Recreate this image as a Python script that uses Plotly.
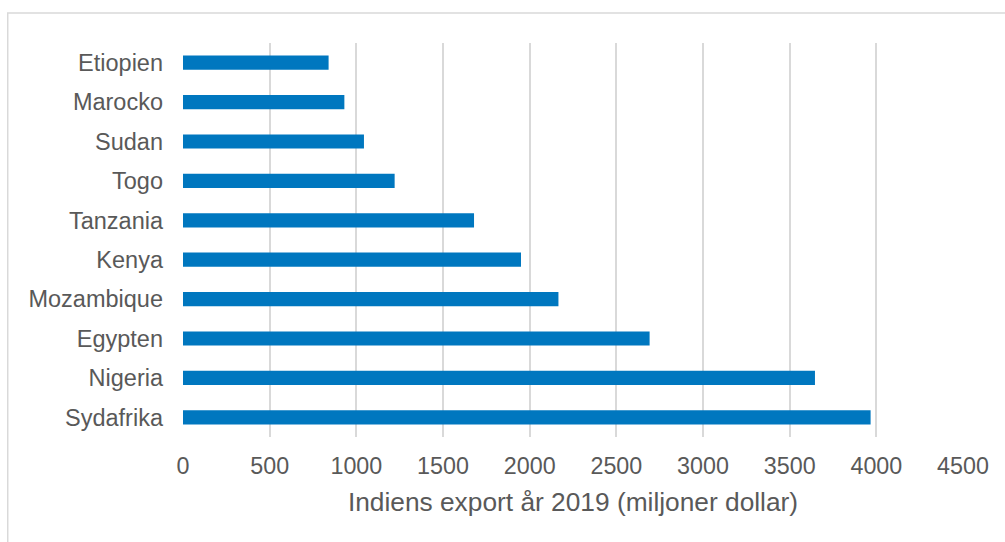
import plotly.graph_objects as go

# India's exports to African countries, 2019 (million USD)
countries = ["Sydafrika", "Nigeria", "Egypten", "Mozambique", "Kenya",
             "Tanzania", "Togo", "Sudan", "Marocko", "Etiopien"]
export_values = [3967, 3646, 2692, 2166, 1950, 1679, 1221, 1044, 931, 840]
x_ticks = [0, 500, 1000, 1500, 2000, 2500, 3000, 3500, 4000, 4500]
x_title = "Indiens export år 2019 (miljoner dollar)"

TEXT = "#595959"
GRID = "#D9D9D9"
BAR = "#0077BF"
FONT = "Arial, Liberation Sans, sans-serif"

fig = go.Figure(
    go.Bar(
        x=export_values,
        y=countries,
        orientation="h",
        width=0.36,
        marker=dict(color=BAR, line=dict(width=0)),
        hoverinfo="x+y",
    )
)

fig.update_layout(
    width=1005,
    height=542,
    margin=dict(l=183, r=42, t=43, b=105),
    paper_bgcolor="white",
    plot_bgcolor="white",
    showlegend=False,
    font=dict(family=FONT, color=TEXT, size=23),
    xaxis=dict(
        range=[0, 4500],
        tickvals=x_ticks,
        ticktext=[str(v) for v in x_ticks],
        showgrid=True,
        gridcolor=GRID,
        gridwidth=1.5,
        zeroline=False,
        showline=False,
        ticks="",
        ticklabelstandoff=13,
        tickfont=dict(size=23.3, color=TEXT),
        title=dict(text=x_title, font=dict(size=26.3, color=TEXT), standoff=14),
        fixedrange=True,
    ),
    yaxis=dict(
        categoryorder="array",
        categoryarray=countries,
        showgrid=False,
        zeroline=False,
        showline=False,
        ticks="",
        ticklabelstandoff=19,
        tickfont=dict(size=23.5, color=TEXT),
        fixedrange=True,
    ),
    shapes=[
        # light frame around the chart area
        dict(
            type="rect",
            xref="paper", yref="paper",
            x0=-0.2247, x1=1.2, y0=-0.5, y1=1.0761,
            line=dict(color=GRID, width=1.5),
            fillcolor="rgba(0,0,0,0)",
            layer="below",
        )
    ],
)

fig.write_html("out.html")
